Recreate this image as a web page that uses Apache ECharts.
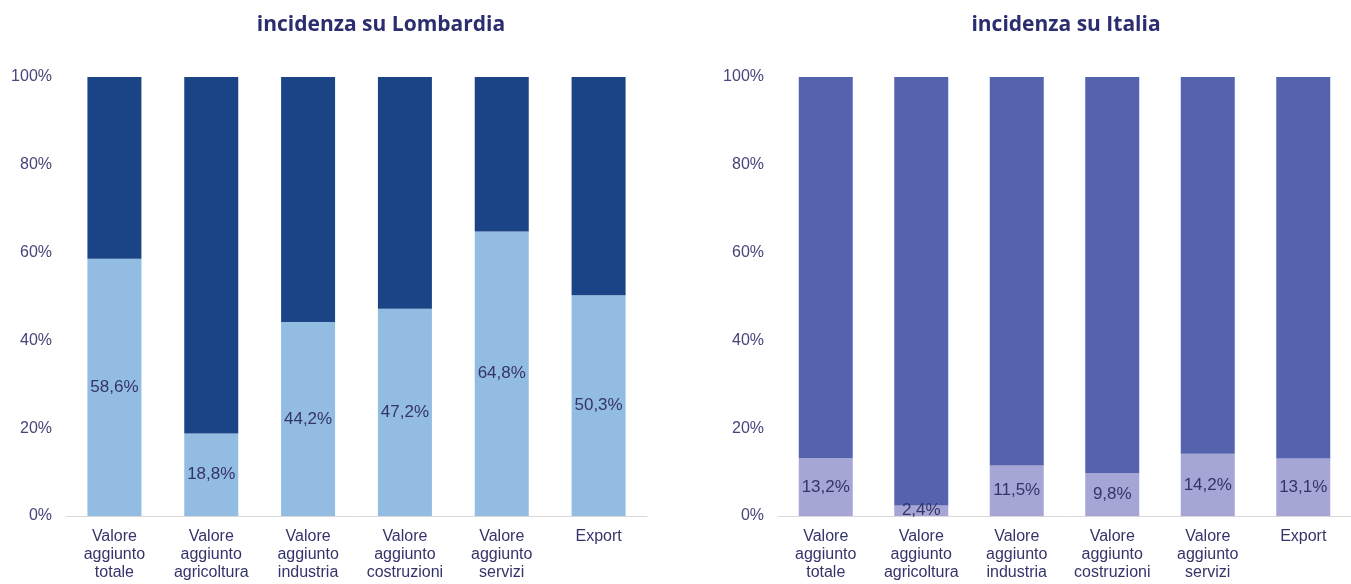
<!DOCTYPE html>
<html>
<head>
<meta charset="utf-8">
<script src="https://cdn.jsdelivr.net/npm/echarts@6/dist/echarts.min.js"></script>
<style>
  html, body { margin: 0; padding: 0; background: #fff; }
  #chart { width: 1351px; height: 584px; }
</style>
</head>
<body>
<div id="chart"></div>
<script>
// incidenza provincia su Lombardia / Italia

var categories = ['Valore\naggiunto\ntotale', 'Valore\naggiunto\nagricoltura', 'Valore\naggiunto\nindustria',
    'Valore\naggiunto\ncostruzioni', 'Valore\naggiunto\nservizi', 'Export'];
var yTicks = [0, 20, 40, 60, 80, 100];

// quota sul totale lombardo e resto
var lombardiaQuota = [58.6, 18.8, 44.2, 47.2, 64.8, 50.3];
var lombardiaResto = [41.4, 81.2, 55.8, 52.8, 35.2, 49.7];

// quota sul totale italiano e resto
var italiaQuota = [13.2, 2.4, 11.5, 9.8, 14.2, 13.1];
var italiaResto = [86.8, 97.6, 88.5, 90.2, 85.8, 86.9];

var txtColor = '#34346a';
var chart = echarts.init(document.getElementById('chart'));

function xAx(idx) {
    return {
        type: 'category', gridIndex: idx, data: categories,
        axisTick: {show: false},
        axisLine: {lineStyle: {color: '#d9d9d9', width: 1}},
        axisLabel: {
            color: txtColor, fontFamily: 'Liberation Sans', fontSize: 16,
            lineHeight: 18, margin: 12, interval: 0, verticalAlign: 'top'
        }
    };
}
function yAx(idx) {
    return {
        type: 'value', gridIndex: idx, min: yTicks[0], max: yTicks[yTicks.length - 1], interval: 20,
        splitLine: {show: false}, axisLine: {show: false}, axisTick: {show: false},
        axisLabel: {
            color: '#45457a', fontFamily: 'Liberation Sans', fontSize: 16, margin: 14,
            formatter: function (v) { return v + '%'; }
        }
    };
}
function quota(idx, data, color) {
    return {
        type: 'bar', xAxisIndex: idx, yAxisIndex: idx, stack: 's' + idx, data: data,
        barWidth: 54, itemStyle: {color: color},
        label: {
            show: true, position: 'inside', color: txtColor,
            fontFamily: 'Liberation Sans', fontSize: 17,
            formatter: function (p) { return p.value.toFixed(1).replace('.', ',') + '%'; }
        }
    };
}
function resto(idx, data, color) {
    return {
        type: 'bar', xAxisIndex: idx, yAxisIndex: idx, stack: 's' + idx, data: data,
        barWidth: 54, itemStyle: {color: color}, label: {show: false}
    };
}

var option = {
    animation: false,
    title: [
        {text: 'incidenza su Lombardia', left: 376, top: 10, textAlign: 'center',
            textStyle: {color: '#2b2d6e', fontFamily: 'Open Sans', fontWeight: 'bold', fontSize: 21}},
        {text: 'incidenza su Italia', left: 1061, top: 10, textAlign: 'center',
            textStyle: {color: '#2b2d6e', fontFamily: 'Open Sans', fontWeight: 'bold', fontSize: 21}}
    ],
    grid: [
        {left: 66, right: 704, top: 77, bottom: 68},
        {left: 778, right: -6, top: 77, bottom: 68}
    ],
    xAxis: [xAx(0), xAx(1)],
    yAxis: [yAx(0), yAx(1)],
    series: [
        quota(0, lombardiaQuota, '#93bce3'),
        resto(0, lombardiaResto, '#1b4487'),
        quota(1, italiaQuota, '#a5a5d6'),
        resto(1, italiaResto, '#5563ae')
    ]
};
chart.setOption(option);
</script>
</body>
</html>
